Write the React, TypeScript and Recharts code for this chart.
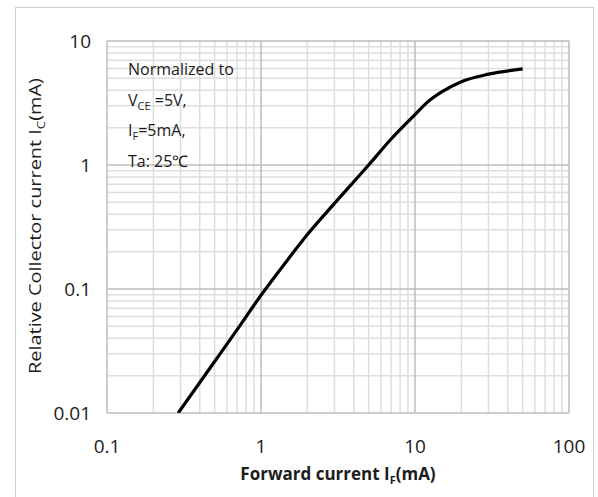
import React from "react";
import { LineChart, Line, XAxis, YAxis, CartesianGrid, Customized } from "recharts";

// Forward current I_F (mA) and relative collector current
const forwardCurrent = [0.29, 0.5, 0.7, 1, 1.5, 2, 3, 5, 7, 10, 12, 15, 20, 30, 50];
const relativeCollector = [0.01, 0.026, 0.047, 0.089, 0.174, 0.275, 0.49, 1.0, 1.62, 2.55, 3.2, 3.9, 4.7, 5.4, 5.95];

const xTicks = [0.1, 1, 10, 100];
const yTicks = [0.01, 0.1, 1, 10];
const xMinor = [0.2, 0.3, 0.4, 0.5, 0.6, 0.7, 0.8, 0.9, 2, 3, 4, 5, 6, 7, 8, 9, 20, 30, 40, 50, 60, 70, 80, 90];
const yMinor = [0.02, 0.03, 0.04, 0.05, 0.06, 0.07, 0.08, 0.09, 0.2, 0.3, 0.4, 0.5, 0.6, 0.7, 0.8, 0.9, 2, 3, 4, 5, 6, 7, 8, 9];

const noteLines = ["Normalized to", "V|CE| =5V,", "I|F|=5mA,", "Ta: 25\u2103"];

const data = forwardCurrent.map((f, i) => ({ f, ic: relativeCollector[i] }));

const FONT = "'Open Sans', sans-serif";
const TEXT = "#1c1c1c";

// "A|sub|B" -> A, subscript, B
function withSub(s: string, size: number, subSize: number, shift: number) {
  const parts = s.split("|");
  if (parts.length < 3) return <tspan>{s}</tspan>;
  return (
    <>
      <tspan>{parts[0]}</tspan>
      <tspan fontSize={subSize} dy={shift}>{parts[1]}</tspan>
      <tspan fontSize={size} dy={-shift}>{parts[2]}</tspan>
    </>
  );
}

function XTick(props: any) {
  const { x, y, payload } = props;
  return (
    <text x={x} y={y + 40} textAnchor="middle" fontSize={19} fontFamily={FONT} fill={TEXT}>
      {payload.value}
    </text>
  );
}

function YTick(props: any) {
  const { x, y, payload } = props;
  return (
    <text x={x - 16} y={y} dy="0.36em" textAnchor="end" fontSize={19} fontFamily={FONT} fill={TEXT}>
      {payload.value}
    </text>
  );
}

function Note() {
  return (
    <g fontFamily={FONT} fontSize={16} fill={TEXT}>
      {noteLines.map((l, i) => (
        <text key={i} x={128} y={75 + i * 30.5}>
          {withSub(l, 16, 11, 4)}
        </text>
      ))}
    </g>
  );
}

function XTitle() {
  return (
    <text x={338} y={480} textAnchor="middle" fontFamily={FONT} fontSize={17} fontWeight={700} fill={TEXT}>
      <tspan>Forward current I</tspan>
      <tspan fontSize={11} dy={4}>F</tspan>
      <tspan fontSize={17} dy={-4}>(mA)</tspan>
    </text>
  );
}

function YTitle() {
  return (
    <text
      transform="translate(41,374) rotate(-90)"
      textAnchor="start"
      fontFamily={FONT}
      fontSize={16.5}
      fill={TEXT}
      textLength={296}
      lengthAdjust="spacingAndGlyphs"
    >
      <tspan>Relative Collector current I</tspan>
      <tspan fontSize={11} dy={4}>C</tspan>
      <tspan fontSize={16.5} dy={-4}>(mA)</tspan>
    </text>
  );
}

export default function App() {
  return (
    <div style={{ position: "absolute", left: 0, top: 0, width: 598, height: 497, overflow: "hidden", background: "#fff" }}>
      <div
        style={{
          position: "absolute",
          left: 15,
          top: 7,
          width: 579,
          height: 500,
          border: "1px solid #cfcfcf",
          boxSizing: "border-box",
        }}
      />
      <LineChart
        width={598}
        height={497}
        data={data}
        margin={{ top: 41, right: 29, left: 47, bottom: 54 }}
        style={{ position: "absolute", left: 0, top: 0 }}
      >
        <CartesianGrid
          stroke="#dedede"
          strokeWidth={1.5}
          verticalValues={xMinor}
          horizontalValues={yMinor}
        />
        <CartesianGrid
          stroke="#bdbdbd"
          strokeWidth={1.5}
          verticalValues={xTicks}
          horizontalValues={yTicks}
        />
        <XAxis
          dataKey="f"
          type="number"
          scale="log"
          domain={[0.1, 100]}
          ticks={xTicks}
          allowDataOverflow
          axisLine={false}
          tickLine={false}
          tickSize={0}
          tickMargin={0}
          height={30}
          tick={<XTick />}
          interval={0}
        />
        <YAxis
          dataKey="ic"
          type="number"
          scale="log"
          domain={[0.01, 10]}
          ticks={yTicks}
          allowDataOverflow
          axisLine={false}
          tickLine={false}
          tickSize={0}
          tickMargin={0}
          width={60}
          tick={<YTick />}
          interval={0}
        />
        <Line
          type="monotone"
          dataKey="ic"
          stroke="#000"
          strokeWidth={3.2}
          dot={false}
          isAnimationActive={false}
        />
        <Customized component={<Note />} />
        <Customized component={<XTitle />} />
        <Customized component={<YTitle />} />
      </LineChart>
    </div>
  );
}
